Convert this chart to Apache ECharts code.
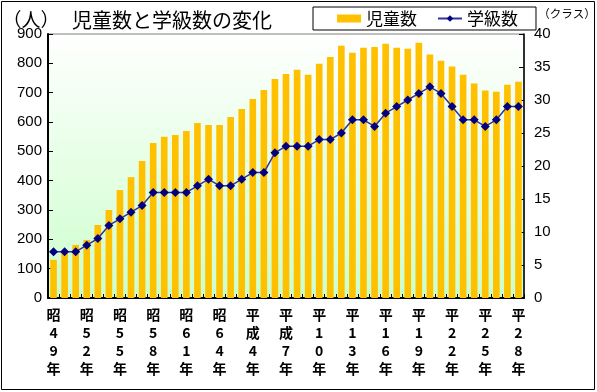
<!DOCTYPE html>
<html>
<head>
<meta charset="utf-8">
<script src="https://cdn.jsdelivr.net/npm/echarts@6/dist/echarts.min.js"></script>
<style>
html,body{margin:0;padding:0;background:#fff;}
#c{width:597px;height:392px;}
</style>
</head>
<body>
<div id="c"></div>
<script>
var categories = ['昭49年','昭50年','昭51年','昭52年','昭53年','昭54年','昭55年','昭56年','昭57年','昭58年',
  '昭59年','昭60年','昭61年','昭62年','昭63年','昭64年','平成2年','平成3年','平成4年','平成5年',
  '平成6年','平成7年','平成8年','平成9年','平10年','平11年','平12年','平13年','平14年','平15年',
  '平16年','平17年','平18年','平19年','平20年','平21年','平22年','平23年','平24年','平25年',
  '平26年','平27年','平28年'];
var students = [130,155,181,198,249,300,368,412,467,528,
  550,556,569,597,590,590,617,644,678,709,
  747,764,778,761,799,822,860,836,853,856,
  867,853,850,870,830,809,789,761,731,707,
  703,727,737];
var classes = [7,7,7,8,9,11,12,13,14,16,
  16,16,16,17,18,17,17,18,19,19,
  22,23,23,23,24,24,25,27,27,26,
  28,29,30,31,32,31,29,27,27,26,
  27,29,29];
var leftTicks = {min:0, max:900, interval:100};
var rightTicks = {min:0, max:40, interval:5};
var seriesNames = ['児童数','学級数'];

var FONT = '"Noto Sans CJK JP", "Liberation Sans", sans-serif';
var chart = echarts.init(document.getElementById('c'), null, {renderer:'canvas'});
chart.setOption({
  animation:false,
  backgroundColor:'#fff',
  textStyle:{fontFamily:FONT},
  grid:{left:48, right:73, top:34, bottom:94, show:true,
    borderColor:'#808080', borderWidth:1,
    backgroundColor:{type:'linear', x:0, y:0, x2:0, y2:1,
      colorStops:[{offset:0,color:'#ffffff'},{offset:1,color:'#ccffcc'}]}},
  legend:{left:313, top:7, orient:'horizontal',
    borderColor:'#000', borderWidth:1, padding:[3,18,3,24],
    itemWidth:24, itemHeight:8, itemGap:20,
    textStyle:{fontSize:17, color:'#000', fontFamily:FONT},
    data:[{name:seriesNames[0], icon:'rect'},{name:seriesNames[1]}]},
  graphic:[
    {type:'rect', shape:{x:1.5,y:1.5,width:593,height:388}, style:{fill:null, stroke:'#000', lineWidth:1}, silent:true},
    {type:'text', x:31, y:20, style:{text:'（人）', font:'19px '+FONT, fill:'#000', textAlign:'center', textVerticalAlign:'middle'}},
    {type:'text', x:172, y:20, style:{text:'児童数と学級数の変化', font:'20px '+FONT, fill:'#000', textAlign:'center', textVerticalAlign:'middle'}},
    {type:'text', x:567, y:14, style:{text:'（クラス）', font:'11.5px '+FONT, fill:'#000', textAlign:'center', textVerticalAlign:'middle'}}
  ],
  xAxis:{type:'category', data:categories, boundaryGap:true,
    axisLine:{lineStyle:{color:'#000', width:2}},
    axisTick:{show:true, inside:true, length:4, interval:0, lineStyle:{color:'#000'}},
    axisLabel:{interval:2, margin:8, color:'#000', fontSize:14, fontWeight:'bold', lineHeight:18,
      fontFamily:FONT,
      formatter:function(v){return v.split('').join('\n');}},
    splitLine:{show:false}},
  yAxis:[
    {type:'value', min:leftTicks.min, max:leftTicks.max, interval:leftTicks.interval, position:'left',
      axisLine:{show:true, lineStyle:{color:'#000', width:2}},
      axisTick:{show:true, inside:true, length:5, lineStyle:{color:'#000'}},
      axisLabel:{color:'#000', fontSize:15, margin:6, fontFamily:'"Liberation Sans", sans-serif'},
      splitLine:{show:false}},
    {type:'value', min:rightTicks.min, max:rightTicks.max, interval:rightTicks.interval, position:'right',
      axisLine:{show:true, lineStyle:{color:'#000', width:1.5}},
      axisTick:{show:true, inside:true, length:5, lineStyle:{color:'#000'}},
      axisLabel:{color:'#000', fontSize:15, margin:10, fontFamily:'"Liberation Sans", sans-serif'},
      splitLine:{show:false}}
  ],
  series:[
    {name:seriesNames[0], type:'bar', data:students, yAxisIndex:0, barWidth:'60%',
      itemStyle:{color:'#ffc000'}},
    {name:seriesNames[1], type:'line', data:classes, yAxisIndex:1,
      symbol:'diamond', symbolSize:9, showSymbol:true, showAllSymbol:true,
      lineStyle:{color:'#333399', width:1.5},
      itemStyle:{color:'#000080'}}
  ]
});
</script>
</body>
</html>
